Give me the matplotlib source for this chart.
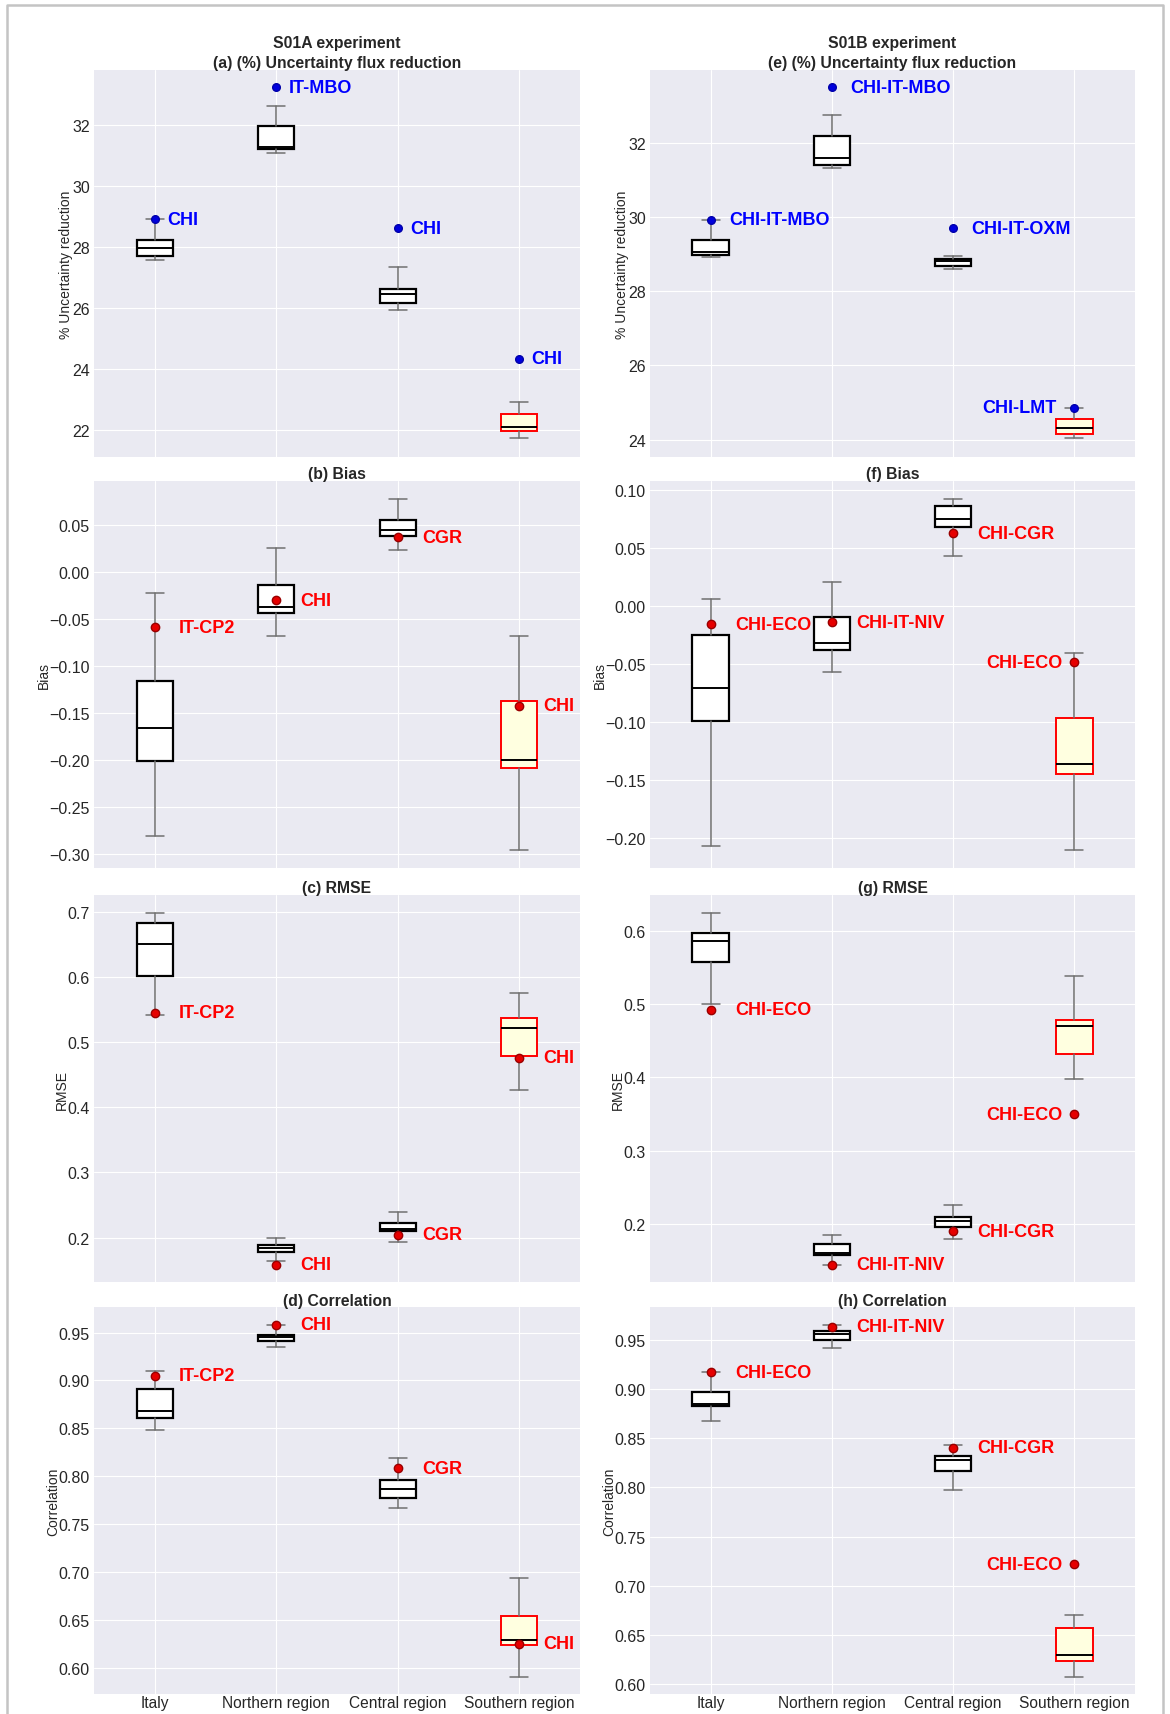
import matplotlib
matplotlib.use('Agg')
import matplotlib.pyplot as plt
import seaborn as sns
from matplotlib.lines import Line2D

sns.set_style('darkgrid')
plt.rcParams['font.family'] = ['Liberation Sans', 'DejaVu Sans']

regions = ['Italy', 'Northern region', 'Central region', 'Southern region']

# ---------------- S01A ----------------
# (a) % uncertainty reduction
a_lo = [27.55, 31.09, 25.91, 21.72]
a_q1 = [27.68, 31.22, 26.14, 21.94]
a_med = [27.95, 31.28, 26.44, 22.08]
a_q3 = [28.21, 31.96, 26.62, 22.51]
a_hi = [28.90, 32.63, 27.32, 22.90]
a_pt = [28.90, 33.23, 28.61, 24.32]
a_lab = ['CHI', 'IT-MBO', 'CHI', 'CHI']

# (b) Bias
b_lo = [-0.2808, -0.0680, 0.0237, -0.2962]
b_q1 = [-0.2013, -0.0428, 0.0386, -0.2084]
b_med = [-0.1661, -0.0371, 0.0454, -0.2002]
b_q3 = [-0.1152, -0.0140, 0.0553, -0.1373]
b_hi = [-0.0221, 0.0258, 0.0781, -0.0680]
b_pt = [-0.0587, -0.0296, 0.0372, -0.1423]
b_lab = ['IT-CP2', 'CHI', 'CGR', 'CHI']

# (c) RMSE
c_lo = [0.5420, 0.1647, 0.1928, 0.4265]
c_q1 = [0.6018, 0.1785, 0.2097, 0.4791]
c_med = [0.6509, 0.1836, 0.2138, 0.5221]
c_q3 = [0.6821, 0.1888, 0.2230, 0.5369]
c_hi = [0.6974, 0.1995, 0.2399, 0.5758]
c_pt = [0.5451, 0.1586, 0.2041, 0.4761]
c_lab = ['IT-CP2', 'CHI', 'CGR', 'CHI']

# (d) Correlation
d_lo = [0.8482, 0.9347, 0.7669, 0.5906]
d_q1 = [0.8611, 0.9416, 0.7771, 0.6237]
d_med = [0.8677, 0.9451, 0.7865, 0.6286]
d_q3 = [0.8911, 0.9479, 0.7955, 0.6536]
d_hi = [0.9096, 0.9584, 0.8189, 0.6941]
d_pt = [0.9047, 0.9584, 0.8081, 0.6247]
d_lab = ['IT-CP2', 'CHI', 'CGR', 'CHI']

# ---------------- S01B ----------------
# (e) % uncertainty reduction
e_lo = [28.93, 31.31, 28.59, 24.03]
e_q1 = [28.98, 31.40, 28.67, 24.15]
e_med = [29.05, 31.60, 28.80, 24.32]
e_q3 = [29.39, 32.18, 28.87, 24.56]
e_hi = [29.91, 32.74, 28.95, 24.86]
e_pt = [29.92, 33.49, 29.69, 24.86]
e_lab = ['CHI-IT-MBO', 'CHI-IT-MBO', 'CHI-IT-OXM', 'CHI-LMT']

# (f) Bias
f_lo = [-0.2065, -0.0570, 0.0429, -0.2103]
f_q1 = [-0.0992, -0.0378, 0.0679, -0.1445]
f_med = [-0.0708, -0.0320, 0.0747, -0.1359]
f_q3 = [-0.0246, -0.0091, 0.0856, -0.0960]
f_hi = [0.0056, 0.0205, 0.0920, -0.0409]
f_pt = [-0.0157, -0.0139, 0.0627, -0.0484]
f_lab = ['CHI-ECO', 'CHI-IT-NIV', 'CHI-CGR', 'CHI-ECO']

# (g) RMSE
g_lo = [0.5002, 0.1440, 0.1795, 0.3978]
g_q1 = [0.5576, 0.1567, 0.1950, 0.4323]
g_med = [0.5859, 0.1599, 0.2032, 0.4697]
g_q3 = [0.5968, 0.1718, 0.2087, 0.4779]
g_hi = [0.6241, 0.1850, 0.2260, 0.5390]
g_pt = [0.4925, 0.1440, 0.1895, 0.3499]
g_lab = ['CHI-ECO', 'CHI-IT-NIV', 'CHI-CGR', 'CHI-ECO']

# (h) Correlation
h_lo = [0.8672, 0.9422, 0.7969, 0.6075]
h_q1 = [0.8831, 0.9503, 0.8166, 0.6235]
h_med = [0.8852, 0.9564, 0.8275, 0.6292]
h_q3 = [0.8974, 0.9595, 0.8322, 0.6574]
h_hi = [0.9171, 0.9656, 0.8427, 0.6703]
h_pt = [0.9171, 0.9636, 0.8404, 0.7219]
h_lab = ['CHI-ECO', 'CHI-IT-NIV', 'CHI-CGR', 'CHI-ECO']

W, H = 1170, 1715
fig = plt.figure(figsize=(W / 100, H / 100), dpi=100)

col_x = [94, 650]
col_w = [486, 485]
row_top = [71, 482, 896, 1308]
row_h = 387

BLUE = '#0000ff'
RED = '#ff0000'
TXT = '#262626'


def make_ax(col, row):
    x0 = col_x[col] / W
    y0 = 1 - (row_top[row] + row_h) / H
    return fig.add_axes([x0, y0, col_w[col] / W, row_h / H])


def draw(ax, lo, q1, med, q3, hi, pt, lab, kind, offs, ylim, yticks,
         title, ylabel, bottom):
    stats = []
    for i in range(4):
        stats.append(dict(whislo=lo[i], q1=q1[i], med=med[i], q3=q3[i],
                          whishi=hi[i], fliers=[]))
    bp = ax.bxp(stats, positions=[1, 2, 3, 4], widths=0.3, patch_artist=True,
                showfliers=False,
                boxprops=dict(facecolor='white', edgecolor='black', linewidth=1.6),
                medianprops=dict(color='black', linewidth=1.4),
                whiskerprops=dict(color='#707070', linewidth=1.1),
                capprops=dict(color='#707070', linewidth=1.1))
    bp['boxes'][3].set_facecolor('#ffffe0')
    bp['boxes'][3].set_edgecolor('#ff0000')
    bp['boxes'][3].set_linewidth(1.4)
    if kind == 'blue':
        ax.plot([1, 2, 3, 4], pt, 'o', color='#0000dd', mec='#0000aa',
                ms=5.5, zorder=5)
        tcol = BLUE
    else:
        ax.plot([1, 2, 3, 4], pt, 'o', color='#e60000', mec='#990000',
                ms=6, zorder=5)
        tcol = RED
    for i in range(4):
        off = offs[i]
        ax.text(i + 1 + off, pt[i], lab[i], ha='left' if off > 0 else 'right',
                va='center', color=tcol, fontsize=13, fontweight='bold',
                zorder=6)
    ax.set_xlim(0.5, 4.5)
    ax.set_ylim(*ylim)
    ax.set_yticks(yticks)
    ax.set_xticks([1, 2, 3, 4])
    if bottom:
        ax.set_xticklabels(regions, fontsize=11.2, color=TXT)
    else:
        ax.set_xticklabels([])
    ax.tick_params(axis='y', labelsize=11.5, labelcolor=TXT, length=0, pad=3)
    ax.tick_params(axis='x', length=0, pad=1)
    ax.set_title(title, fontsize=11.3, fontweight='bold', color=TXT, pad=1.5,
                 linespacing=1.4)
    ax.set_ylabel(ylabel, fontsize=10, color=TXT, labelpad=-1)
    for s in ax.spines.values():
        s.set_visible(False)


# Left column (S01A)
ax = make_ax(0, 0)
draw(ax, a_lo, a_q1, a_med, a_q3, a_hi, a_pt, a_lab, 'blue',
     [0.1, 0.1, 0.1, 0.1], (21.1, 33.8), [22, 24, 26, 28, 30, 32],
     'S01A experiment\n(a) (%) Uncertainty flux reduction',
     '% Uncertainty reduction', False)

ax = make_ax(0, 1)
draw(ax, b_lo, b_q1, b_med, b_q3, b_hi, b_pt, b_lab, 'red',
     [0.2, 0.2, 0.2, 0.2], (-0.3149, 0.0973),
     [-0.30, -0.25, -0.20, -0.15, -0.10, -0.05, 0.00, 0.05],
     '(b) Bias', 'Bias', False)

ax = make_ax(0, 2)
draw(ax, c_lo, c_q1, c_med, c_q3, c_hi, c_pt, c_lab, 'red',
     [0.2, 0.2, 0.2, 0.2], (0.132, 0.7256), [0.2, 0.3, 0.4, 0.5, 0.6, 0.7],
     '(c) RMSE', 'RMSE', False)

ax = make_ax(0, 3)
draw(ax, d_lo, d_q1, d_med, d_q3, d_hi, d_pt, d_lab, 'red',
     [0.2, 0.2, 0.2, 0.2], (0.5724, 0.9768),
     [0.60, 0.65, 0.70, 0.75, 0.80, 0.85, 0.90, 0.95],
     '(d) Correlation', 'Correlation', True)

# Right column (S01B)
ax = make_ax(1, 0)
draw(ax, e_lo, e_q1, e_med, e_q3, e_hi, e_pt, e_lab, 'blue',
     [0.15, 0.15, 0.15, -0.15], (23.53, 33.96), [24, 26, 28, 30, 32],
     'S01B experiment\n(e) (%) Uncertainty flux reduction',
     '% Uncertainty reduction', False)

ax = make_ax(1, 1)
draw(ax, f_lo, f_q1, f_med, f_q3, f_hi, f_pt, f_lab, 'red',
     [0.2, 0.2, 0.2, -0.1], (-0.2255, 0.1075),
     [-0.20, -0.15, -0.10, -0.05, 0.00, 0.05, 0.10],
     '(f) Bias', 'Bias', False)

ax = make_ax(1, 2)
draw(ax, g_lo, g_q1, g_med, g_q3, g_hi, g_pt, g_lab, 'red',
     [0.2, 0.2, 0.2, -0.1], (0.1203, 0.6492), [0.2, 0.3, 0.4, 0.5, 0.6],
     '(g) RMSE', 'RMSE', False)

ax = make_ax(1, 3)
draw(ax, h_lo, h_q1, h_med, h_q3, h_hi, h_pt, h_lab, 'red',
     [0.2, 0.2, 0.2, -0.1], (0.5898, 0.9836),
     [0.60, 0.65, 0.70, 0.75, 0.80, 0.85, 0.90, 0.95],
     '(h) Correlation', 'Correlation', True)

# light frame around the figure
fig.add_artist(Line2D([7 / W, 7 / W, 1163 / W, 1163 / W],
                      [0, 1 - 6 / H, 1 - 6 / H, 0],
                      transform=fig.transFigure, color='#c4c4c4', lw=1.8))

fig.savefig('out.png', dpi=100)
